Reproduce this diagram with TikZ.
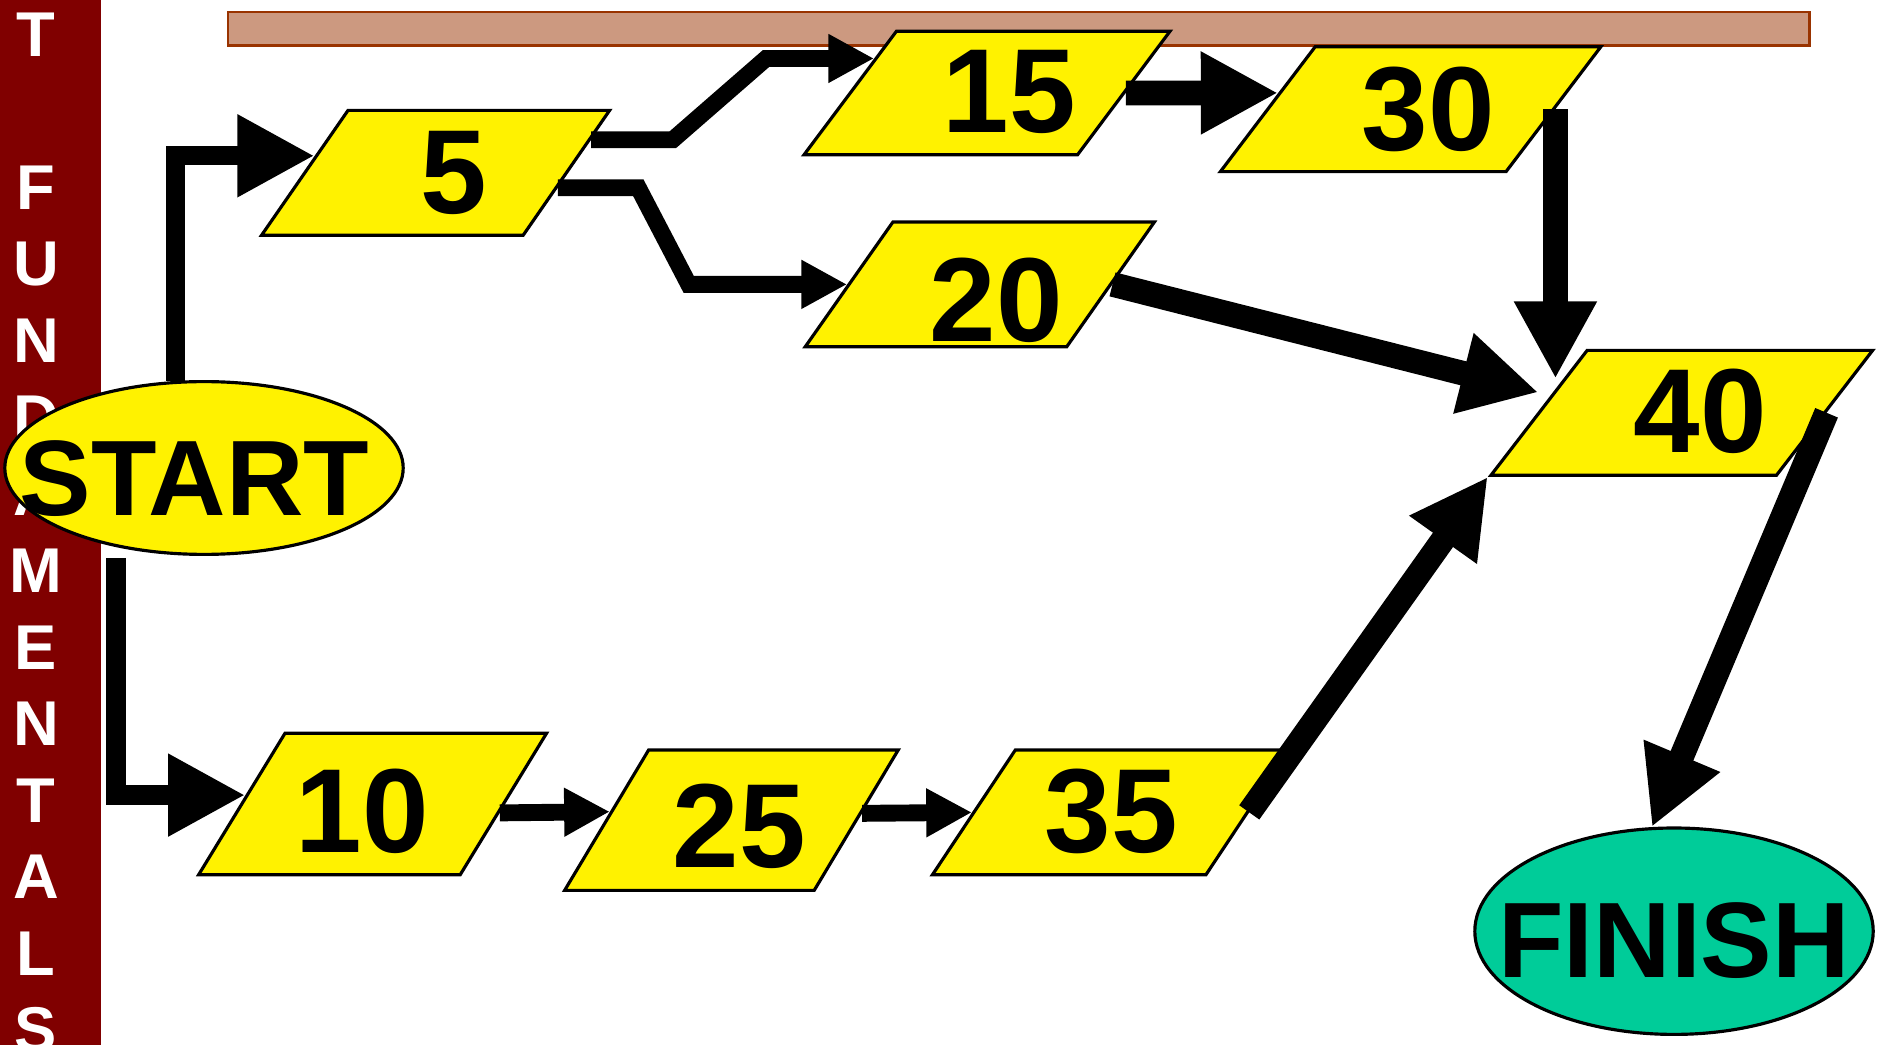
\documentclass[tikz,border=0pt]{standalone}
\usepackage{fontspec}
\setmainfont{Liberation Sans}
\usetikzlibrary{shapes.geometric,arrows.meta}
\definecolor{sidebar}{HTML}{800000}
\definecolor{barfill}{HTML}{CC9980}
\definecolor{barline}{HTML}{993300}
\definecolor{finishgreen}{HTML}{00CC99}
\newdimen\unitpx \unitpx=0.012cm
\tikzset{
  letter/.style={text=white, font=\fontsize{18}{18}\selectfont\bfseries},
  event/.style={ellipse, draw, line width=0.9pt, inner sep=0pt, minimum width=332*\unitpx,
    font=\fontsize{30.5}{30.5}\selectfont\bfseries},
  task/.style={trapezium, trapezium stretches body, draw, fill=yellow, line width=0.9pt, inner sep=0pt},
  num/.style={font=\fontsize{34}{34}\selectfont\bfseries},
  flow/.style={line width=7pt, -{Triangle[length=22pt,width=22pt]}},
  thin flow/.style={line width=4.8pt, -{Triangle[length=13pt,width=13pt]}}
}
\begin{document}
\begin{tikzpicture}[x=0.012cm, y=-0.012cm, line join=miter]
	\useasboundingbox (0,0) rectangle (1570,871);
	% side bar
	\fill[sidebar] (0,0) rectangle (84,871);
	\foreach \ch/\k in {T/0,F/2,U/3,N/4,D/5,A/6,M/7,E/8,N/9,T/10,A/11,L/12,S/13}
		\node[letter] (l\k) at (30,29+63.8*\k) {\ch};
	% top bar
	\draw[barline, fill=barfill, line width=0.8pt] (190,10) rectangle (1508,38);
	% activities
	\foreach \n/\x/\y/\w/\h/\a/\tx/\ty in {5/363/144/290/104/55.3/378/144,
		15/822.5/77.5/305/103/53.2/841/77, 30/1175.5/91/317/104/52.8/1190/91,
		20/816.5/237/291/104/54.9/830/250, 40/1401.5/344/318/104/52.4/1417/343,
		10/310.5/670/290/118/58.6/302/676, 25/609.5/683.5/278/117/59.1/616/689,
		35/925.5/677/297/104/56.4/926/676}{
		\pgfmathsetmacro\ra{180-\a}
		\node[task, minimum width=\w*\unitpx, minimum height=\h*\unitpx,
			trapezium left angle=\a, trapezium right angle=\ra] (a\n) at (\x,\y) {\rule{0pt}{\h\unitpx}};
		\node[num] (n\n) at (\tx,\ty) {\n};
	}
	% start and finish
	\node[event, fill=yellow, minimum height=144*\unitpx] (start) at (170,390)
		{\raisebox{-9\unitpx}[\height][\depth]{\makebox[0pt]{\hspace*{-16\unitpx}START}}};
	\node[event, fill=finishgreen, minimum height=172*\unitpx] (finish) at (1395,776)
		{\raisebox{-8\unitpx}[\height][\depth]{\makebox[0pt]{FINISH}}};
	% arrows
	\draw[flow, line width=5.5pt] (start.108) |- (a5.172);
	\draw[thin flow] (a5.12) -- ++(68,0) -- ([xshift=-90*\unitpx]a15.163) -- (a15.163);
	\draw[thin flow] (a5.-7) -- ++(67,0) -- ([xshift=-132*\unitpx]a20.180) -- (a20.180);
	\draw[flow] (a15.0) -- (a30.173);
	\draw[flow] (a30.0) -- (a30.0 |- a40.164);
	\draw[flow] (a20.0) -- ([xshift=-12*\unitpx]a40.171);
	\draw[flow] (a35.0) -- (a40.bottom left corner);
	\draw[flow] (a40.0) -- (finish.102);
	\draw[flow, line width=5.5pt] ([yshift=-9*\unitpx]start.222) |- (a10.176);
	\draw[thin flow] (a10.-4) -- (a25.176);
	\draw[thin flow] (a25.3) -- (a35.180);
\end{tikzpicture}
\end{document}
